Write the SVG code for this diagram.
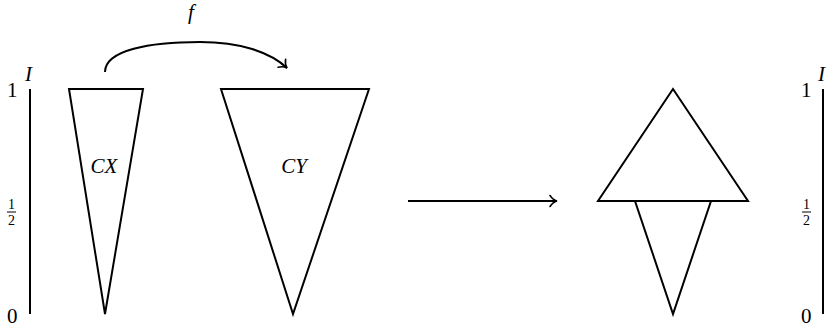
<svg xmlns="http://www.w3.org/2000/svg" width="831" height="332" viewBox="0 0 831 332">
<rect width="831" height="332" fill="#fff"/>
<g id="axis-left">
<line x1="30" y1="89" x2="30" y2="314" stroke="#000" stroke-width="2"/>
<text x="25" y="81" font-family="Times New Roman, Liberation Serif, serif" font-style="italic" font-size="21">I</text>
<text x="7" y="97" font-family="Times New Roman, Liberation Serif, serif" font-size="21">1</text>
<text x="8" y="209" font-family="Times New Roman, Liberation Serif, serif" font-size="14">1</text>
<line x1="7" y1="212" x2="16" y2="212" stroke="#000" stroke-width="1"/>
<text x="8" y="225" font-family="Times New Roman, Liberation Serif, serif" font-size="14">2</text>
<text x="7" y="323" font-family="Times New Roman, Liberation Serif, serif" font-size="21">0</text>
</g>
<g id="axis-right">
<line x1="823" y1="89" x2="823" y2="314" stroke="#000" stroke-width="2"/>
<text x="818" y="81" font-family="Times New Roman, Liberation Serif, serif" font-style="italic" font-size="21">I</text>
<text x="801" y="97" font-family="Times New Roman, Liberation Serif, serif" font-size="21">1</text>
<text x="803" y="209" font-family="Times New Roman, Liberation Serif, serif" font-size="14">1</text>
<line x1="802" y1="212" x2="811" y2="212" stroke="#000" stroke-width="1"/>
<text x="803" y="225" font-family="Times New Roman, Liberation Serif, serif" font-size="14">2</text>
<text x="801" y="323" font-family="Times New Roman, Liberation Serif, serif" font-size="21">0</text>
</g>
<g id="CX">
<polygon points="69,89 143,89 105,314" fill="#fff" stroke="#000" stroke-width="2"/>
<text x="104" y="173" text-anchor="middle" font-family="Times New Roman, Liberation Serif, serif" font-style="italic" font-size="21">CX</text>
</g>
<g id="CY">
<polygon points="221,89 369,89 293,314" fill="#fff" stroke="#000" stroke-width="2"/>
<text x="294" y="173" text-anchor="middle" font-family="Times New Roman, Liberation Serif, serif" font-style="italic" font-size="21">CY</text>
</g>
<g id="result">
<polygon points="635,201 711,201 673,314" fill="#fff" stroke="#000" stroke-width="2"/>
<polygon points="673,89 748,201 598,201" fill="#fff" stroke="#000" stroke-width="2"/>
</g>
<g id="connectors" fill="none" stroke="#000">
<path d="M105,72 C105,50 150,42 200,42 C240,42 270,52 287,68" stroke-width="2"/>
<path d="M285.6,59.2 Q284.8,64.5 287,68 Q283.4,66 278.1,67.2" stroke-width="1.6" stroke-linecap="round"/>
<line x1="408" y1="201" x2="557" y2="201" stroke-width="2"/>
<path d="M550,195.5 Q553,200 557,201 Q553,202 550,206.5" stroke-width="1.6" stroke-linecap="round"/>
<text x="191" y="19" text-anchor="middle" fill="#000" stroke="none" font-family="Times New Roman, Liberation Serif, serif" font-style="italic" font-size="21">f</text>
</g>
</svg>
